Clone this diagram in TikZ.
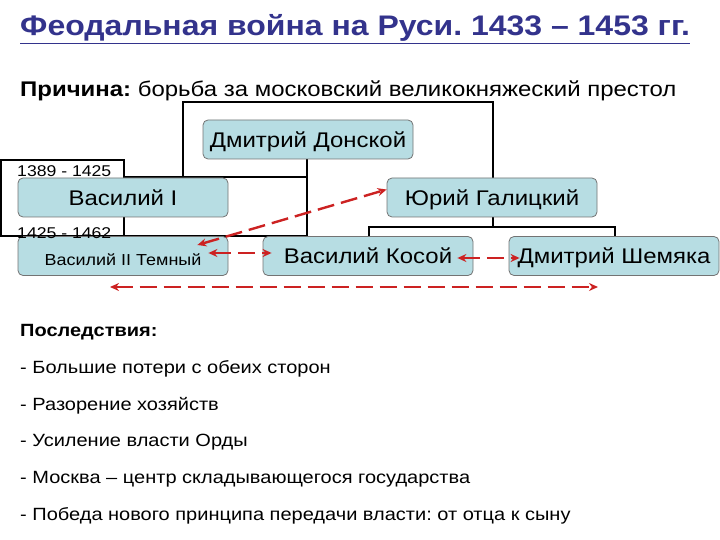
\documentclass[tikz,border=0pt]{standalone}
\usepackage{fontspec}
\setmainfont{Liberation Sans}[FakeStretch=1.13]
\usetikzlibrary{arrows.meta,calc}

\definecolor{titleblue}{RGB}{51,51,140}
\definecolor{boxblue}{RGB}{183,221,227}
\definecolor{warred}{RGB}{204,34,34}

\tikzset{
  prince/.style={draw=black!55, fill=boxblue, rounded corners=5pt, line width=0.8pt,
    minimum width=210pt, minimum height=39pt, inner sep=0pt,
    text height=15.2pt, text depth=0pt,
    font=\fontsize{21.2}{25}\selectfont},
  link/.style={line width=2pt},
  feud/.style={draw=warred, line width=2.4pt, dash pattern=on 17pt off 7pt,
    {Stealth[length=9pt,width=8pt]}-{Stealth[length=9pt,width=8pt]}},
  txt/.style={anchor=base west, inner sep=0pt},
}

\begin{document}
\frenchspacing
\begin{tikzpicture}[x=1pt,y=-1pt]
\useasboundingbox (0,0) rectangle (720,540);

% title and cause
\node[txt, text=titleblue, font=\fontsize{28.3}{32}\bfseries\selectfont] (title) at (20,36)
  {\underline{Феодальная война на Руси. 1433 – 1453 гг.}};
\node[txt, font=\fontsize{21.2}{25}\selectfont] (cause) at (20,97)
  {\textbf{Причина:} борьба за московский великокняжеский престол};

% family tree lines
\draw[link] (183,177) -- (183,102) -- (493,102) -- (493,178);
\draw[link] (307,159) -- (307,236);
\draw[link] (124,177) -- (307,177);
\draw[link] (0,236) -- (307,236);
\draw[link] (1,160) rectangle (124,236);
\draw[link] (493,217) -- (493,227);
\draw[link] (369,237) -- (369,227) -- (615,227) -- (615,237);

% princes
\node[prince] (donskoy) at (308,139.5) {Дмитрий Донской};
\node[prince] (vas1) at (123,197.5) {Василий I};
\node[prince] (yuri) at (492,197.5) {Юрий Галицкий};
\node[prince, text height=18pt, font=\fontsize{15.9}{19}\selectfont] (vas2) at (123,256) {Василий II Темный};
\node[prince] (kosoy) at (368,256) {Василий Косой};
\node[prince] (shemyaka) at (614,256) {Дмитрий Шемяка};

\node[txt, font=\fontsize{15.6}{19}\selectfont] (reign1) at (17,177) {1389 - 1425};
\node[txt, font=\fontsize{15.6}{19}\selectfont] (reign2) at (17,239) {1425 - 1462};

% rivalry
\coordinate (v2a) at ($(vas2.east)+(-31,-11)$);
\coordinate (ya) at ($(yuri.west)+(0,-8)$);
\coordinate (v2b) at ($(vas2.east)+(-20,-3)$);
\coordinate (ka) at ($(kosoy.west)+(9,-3)$);
\coordinate (kb) at ($(kosoy.east)+(-16,2)$);
\coordinate (sa) at ($(shemyaka.west)+(11,2)$);
\coordinate (allL) at (110,287);
\coordinate (allR) at (598,287);
\draw[feud] (v2a) -- (ya);
\draw[feud] (v2b) -- (ka);
\draw[feud] (kb) -- (sa);
\draw[feud] (allL) -- (allR);

% consequences
\node[txt, font=\fontsize{17.7}{21}\bfseries\selectfont] (cons) at (20,336) {Последствия:};
\foreach \y/\t in {373/Большие потери с обеих сторон,
                   410/Разорение хозяйств,
                   446/Усиление власти Орды,
                   483/Москва – центр складывающегося государства,
                   520/Победа нового принципа передачи власти: от отца к сыну}
  \node[txt, font=\fontsize{17.7}{21}\selectfont] at (20,\y) {- \t};
\end{tikzpicture}
\end{document}
